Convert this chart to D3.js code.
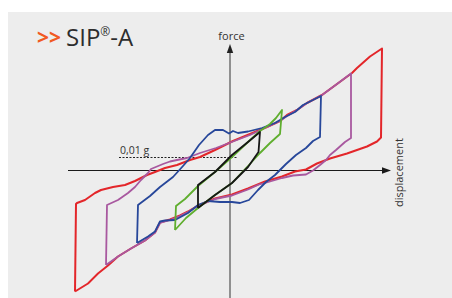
<!DOCTYPE html>
<html>
<head>
<meta charset="utf-8">
<script src="https://cdn.jsdelivr.net/npm/d3@7"></script>
<style>
  body { margin: 0; background: #fff; }
  svg { display: block; font-family: "Open Sans", sans-serif; }
</style>
</head>
<body>
<div id="chart"></div>
<script>
// hysteresis loops, [displacement, force]
var redLoop = [[-155,-121],[-142,-113],[-132,-103],[-122,-95],[-112,-86],[-99,-78],[-85,-70],[-75,-62],[-70,-52],[-60,-49],[-50,-45],[-42,-41],[-32,-35],[-15,-28],[2,-24],[18,-18],[35,-11],[52,-6],[65,-1],[76,1],[87,7],[100,12],[117,17],[137,24],[147,29],[151,33],
  [152,122],[140,114],[127,102.5],[122,97.5],[107,86.5],[92,75.5],[77,67.5],[67,60.5],[57,55.5],[50,49.5],[37,43.5],[20,36.5],[3,29.5],[-15,20.5],[-30,13.5],[-40,10.5],[-53,5.5],[-65,2.5],[-75,-1.5],[-83,-4.5],[-95,-10.5],[-105,-14.5],[-117,-16.5],[-129,-19.5],[-135,-22.5],[-145,-29.5],[-153,-32.5],[-154,-33.5],[-155,-121]];

var magentaLoop = [[-124,-94.5],[-112,-86],[-99,-78],[-85,-70],[-75,-62],[-70,-52.5],[-60,-49.5],[-50,-45.5],[-42,-41.5],[-32,-35.5],[-15,-28.5],[2,-25],[18,-19],[29,-14],[35,-12.5],[52,-7.5],[63,-5],[76,-4],[83,0],[90,5.5],[96,10.5],[100,15.5],[106,20.5],[115,28.5],[121,32.5],
  [121,97],[107,86.5],[92,75.5],[77,67.5],[67,60.5],[57,54.5],[50,49.5],[37,43.5],[20,35.5],[3,29],[-14,22.5],[-30,17.5],[-43,12.5],[-53,10.5],[-60,9],[-67,6.5],[-73,4],[-79,1.5],[-82,-2.5],[-89,-9.5],[-95,-16.5],[-102,-22.5],[-112,-29.5],[-123,-34.5],[-124,-94.5]];

var blueLoop = [[-93,-72.5],[-82,-66],[-75,-61],[-70,-51],[-65,-50],[-55,-49.5],[-42,-42.5],[-32,-34.5],[-22,-30.5],[-10,-31.5],[2,-31.5],[10,-32.5],[19,-29.5],[28,-19.5],[36,-11.5],[45,-4.5],[56,6.5],[66,15.5],[76,22.5],[83,29.5],[90,33.5],
  [91,74.5],[83,70.5],[73,65.5],[65,58.5],[55,53.5],[45,47.5],[32,42.5],[18,39],[8,37.5],[3,39.5],[-1,37],[-7,40.5],[-15,40.5],[-22,35.5],[-31,25.5],[-40,12.5],[-47,4.5],[-57,-6.5],[-70,-16.5],[-80,-25.5],[-92,-34.5],[-93,-72.5]];

var greenLoop = [[-55,-59.5],[-54,-35.5],[-45,-28.5],[-32,-15.5],[-15,-1.5],[2,13.5],[18,28.5],[30,39.5],[40,46.5],[46,52.5],[52,60.5],
  [50,36.5],[40,27.5],[30,17.5],[18,4.5],[2,-12.5],[-15,-24.5],[-32,-37.5],[-44,-47.5],[-55,-59.5]];

var blackLoop = [[-32,-37.5],[-32,-14.5],[-15,-1.5],[2,15.5],[18,28.5],[30,38.5],
  [28.5,18.5],[18,3.5],[2,-12.5],[-15,-24.5],[-32,-37.5]];

var loops = [
  {name: "red", color: "#e3262a", width: 2, points: redLoop},
  {name: "magenta", color: "#a8589f", width: 1.8, points: magentaLoop},
  {name: "blue", color: "#27479a", width: 1.8, points: blueLoop},
  {name: "green", color: "#5fae2e", width: 1.8, points: greenLoop},
  {name: "black", color: "#161616", width: 1.8, points: blackLoop}
];

var refLevel = 13;          // force level of the 0,01 g line
var refFrom = -111, refTo = 7;
var refLabel = "0,01 g";

var W = 452, H = 298;

var svg = d3.select("#chart")
  .append("svg")
    .attr("width", W)
    .attr("height", H);

// grey panel
svg.append("rect")
  .attr("x", 8).attr("y", 12)
  .attr("width", W - 8).attr("height", H - 12)
  .attr("fill", "#ededed");

var x = d3.scaleLinear().domain([-160, 160]).range([70, 390]);
var y = d3.scaleLinear().domain([-130, 130]).range([300.5, 40.5]);

// axes with arrows
svg.append("line")
  .attr("x1", x(0)).attr("x2", x(0))
  .attr("y1", H).attr("y2", y(119))
  .attr("stroke", "#5e5e5e").attr("stroke-width", 1.3);
svg.append("path")
  .attr("d", "M" + x(0) + "," + y(126.5) + "L" + (x(0) - 3.2) + "," + y(117.5) + "L" + (x(0) + 3.2) + "," + y(117.5) + "Z")
  .attr("fill", "#222");

svg.append("line")
  .attr("x1", x(-162)).attr("x2", x(153))
  .attr("y1", y(0)).attr("y2", y(0))
  .attr("stroke", "#1a1a1a").attr("stroke-width", 1.2);
svg.append("path")
  .attr("d", "M" + x(161) + "," + y(0) + "L" + x(152) + "," + (y(0) - 3.2) + "L" + x(152) + "," + (y(0) + 3.2) + "Z")
  .attr("fill", "#1a1a1a");

svg.append("text")
  .attr("x", x(1.5)).attr("y", 40)
  .attr("text-anchor", "middle")
  .attr("font-size", 11)
  .attr("fill", "#333")
  .text("force");

svg.append("text")
  .attr("transform", "translate(403," + y(-36.5) + ") rotate(-90)")
  .attr("font-size", 11)
  .attr("fill", "#333")
  .text("displacement");

// 0,01 g reference
svg.append("line")
  .attr("x1", x(refFrom)).attr("x2", x(refTo))
  .attr("y1", y(refLevel)).attr("y2", y(refLevel))
  .attr("stroke", "#222").attr("stroke-width", 1)
  .attr("stroke-dasharray", "2,1.5");
svg.append("text")
  .attr("x", x(refFrom) + 1).attr("y", y(refLevel) - 4)
  .attr("font-size", 10.5)
  .attr("fill", "#333")
  .text(refLabel);

// loops
var line = d3.line()
  .x(function(d) { return x(d[0]) })
  .y(function(d) { return y(d[1]) });

svg.selectAll(".loop")
  .data(loops)
  .enter()
  .append("path")
    .attr("class", "loop")
    .attr("d", function(d) { return line(d.points) })
    .attr("fill", "none")
    .attr("stroke", function(d) { return d.color })
    .attr("stroke-width", function(d) { return d.width })
    .attr("stroke-linejoin", "round");

// title
var title = svg.append("text")
  .attr("x", 37).attr("y", 46)
  .attr("fill", "#2d2d2d");
title.append("tspan")
  .attr("font-size", 21).attr("font-weight", 700)
  .attr("fill", "#f15a22")
  .attr("dy", -1)
  .text(">>");
title.append("tspan")
  .attr("dx", 5).attr("dy", 1)
  .attr("font-size", 24)
  .text("SIP");
title.append("tspan")
  .attr("font-size", 12).attr("dy", -10)
  .text("®");
title.append("tspan")
  .attr("font-size", 24).attr("dy", 10)
  .text("-A");
</script>
</body>
</html>
